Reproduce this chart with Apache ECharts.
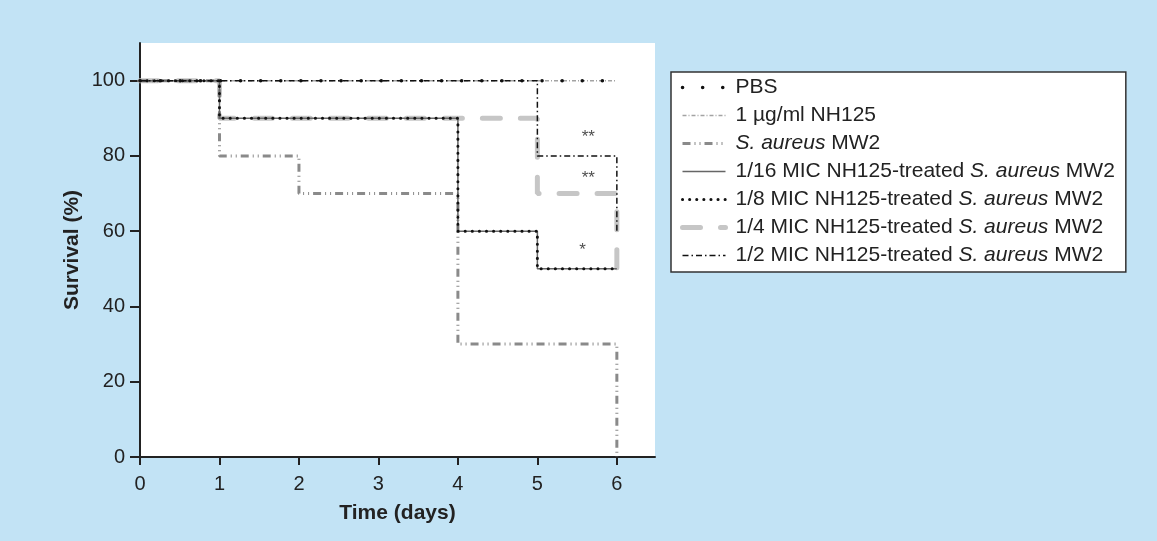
<!DOCTYPE html>
<html>
<head>
<meta charset="utf-8">
<script src="https://cdn.jsdelivr.net/npm/echarts@6/dist/echarts.min.js"></script>
<style>
  html, body { margin: 0; padding: 0; background: #c2e3f5; }
  #main { width: 1157px; height: 541px; }
</style>
</head>
<body>
<div id="main"></div>
<script>
var chart = echarts.init(document.getElementById('main'));

// series names (legend order)
var names = [
  'PBS',
  '1 µg/ml NH125',
  'S. aureus MW2',
  '1/16 MIC NH125-treated S. aureus MW2',
  '1/8 MIC NH125-treated S. aureus MW2',
  '1/4 MIC NH125-treated S. aureus MW2',
  '1/2 MIC NH125-treated S. aureus MW2'
];

// survival curves: [day, survival %], value holds until next point
var pbs     = [[0, 100], [6, 100]];
var nh125   = [[0, 100], [6, 100]];
var mw2     = [[0, 100], [1, 80], [2, 70], [4, 30], [6, 0]];
var mic16   = [[0, 100], [1, 90], [4, 60], [5, 50], [6, 50]];
var mic8    = [[0, 100], [1, 90], [4, 60], [5, 50], [6, 50]];
var mic4    = [[0, 100], [1, 90], [5, 70], [6, 50]];
var mic2    = [[0, 100], [5, 80], [6, 60]];

// significance marks
var stars = [[5.64, 85, '**'], [5.64, 74, '**'], [5.57, 55, '*']];

var xTicks = [0, 1, 2, 3, 4, 5, 6];
var yTicks = [0, 20, 40, 60, 80, 100];

var font = 'Liberation Sans, Arial, Helvetica, sans-serif';

// line looks: colour, width, dash
var looks = {};
looks[names[0]] = { color: '#111', width: 3.5, type: [0.1, 20], cap: 'round' };
looks[names[1]] = { color: '#a3a3a3', width: 1.5, type: [4, 2, 1, 2] };
looks[names[2]] = { color: '#8a8a8a', width: 3, type: [8, 4, 1, 4, 1, 4] };
looks[names[3]] = { color: '#666', width: 1.5, type: 'solid' };
looks[names[4]] = { color: '#111', width: 3, type: [0.1, 7], cap: 'round' };
looks[names[5]] = { color: '#c6c6c6', width: 5, type: [18, 20], cap: 'round' };
looks[names[6]] = { color: '#111', width: 1.5, type: [6, 3, 1.5, 3] };

function stepSeries(name, data, z) {
  var l = looks[name];
  return {
    name: name,
    type: 'line',
    step: 'end',
    data: data,
    symbol: 'none',
    z: z,
    color: l.color,
    lineStyle: { color: l.color, width: l.width, type: l.type, cap: l.cap || 'butt' }
  };
}

var option = {
  backgroundColor: '#c2e3f5',
  animation: false,
  textStyle: { fontFamily: font },
  grid: {
    left: 140, right: 502, top: 43, bottom: 84,
    show: true, backgroundColor: '#fff', borderWidth: 0
  },
  legend: {
    orient: 'vertical',
    left: 671, top: 72,
    backgroundColor: '#fff',
    borderColor: '#333', borderWidth: 1.5, borderRadius: 0,
    padding: [5, 11, 6, 9],
    itemWidth: 43, itemHeight: 14, itemGap: 7,
    itemStyle: { color: 'rgba(0,0,0,0)', borderWidth: 0, opacity: 0 },
    data: names.map(function (n) {
      return { name: n, lineStyle: { width: looks[n].width } };
    }),
    formatter: function (n) {
      return n.replace('S. aureus', '{i|S. aureus}');
    },
    textStyle: {
      fontFamily: font, fontSize: 21, color: '#222', lineHeight: 21,
      padding: [0, 0, 0, 5],
      rich: { i: { fontStyle: 'italic', fontFamily: font, fontSize: 21, color: '#222', lineHeight: 21 } }
    }
  },
  xAxis: {
    type: 'value',
    min: 0, max: 6.48,
    name: 'Time (days)',
    nameLocation: 'middle',
    nameGap: 46,
    nameTextStyle: { fontFamily: font, fontSize: 21, fontWeight: 'bold', color: '#222' },
    splitLine: { show: false },
    axisLine: { onZero: false, lineStyle: { color: '#222', width: 2 } },
    axisTick: { length: 8, lineStyle: { color: '#222', width: 2 }, customValues: xTicks },
    axisLabel: { fontFamily: font, fontSize: 20, color: '#222', margin: 17, customValues: xTicks }
  },
  yAxis: {
    type: 'value',
    min: 0, max: 110,
    name: 'Survival (%)',
    nameLocation: 'middle',
    nameGap: 57,
    nameTextStyle: { fontFamily: font, fontSize: 21, fontWeight: 'bold', color: '#222' },
    splitLine: { show: false },
    axisLine: { show: true, onZero: false, lineStyle: { color: '#222', width: 2 } },
    axisTick: { show: true, length: 10, lineStyle: { color: '#222', width: 2 }, customValues: yTicks },
    axisLabel: { fontFamily: font, fontSize: 20, color: '#222', margin: 15, customValues: yTicks }
  },
  series: [
    stepSeries(names[5], mic4, 2),
    stepSeries(names[2], mw2, 3),
    stepSeries(names[1], nh125, 4),
    stepSeries(names[3], mic16, 5),
    stepSeries(names[4], mic8, 6),
    stepSeries(names[0], pbs, 7),
    stepSeries(names[6], mic2, 8),
    {
      name: 'stars',
      type: 'scatter',
      data: stars,
      symbolSize: 0,
      z: 9,
      label: {
        show: true, position: 'inside',
        formatter: function (p) { return p.value[2]; },
        fontFamily: font, fontSize: 17, color: '#222'
      }
    }
  ]
};

chart.setOption(option);
window.onresize = chart.resize;
</script>
</body>
</html>
